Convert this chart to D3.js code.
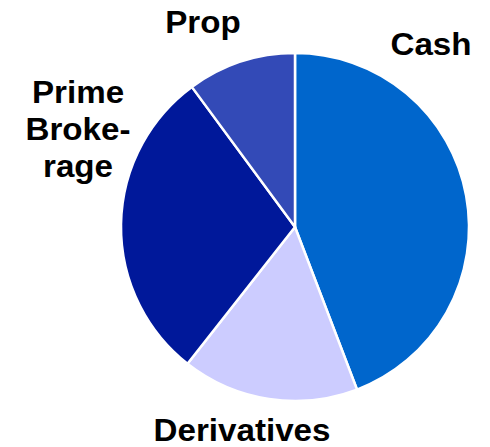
<!DOCTYPE html>
<html>
<head>
<meta charset="utf-8">
<script src="https://cdn.jsdelivr.net/npm/d3@7"></script>
<style>
  body { margin: 0; background: #fff; }
  svg { display: block; }
  .label { font-family: "Liberation Sans", Arial, sans-serif; font-weight: bold; font-size: 31px; fill: #000; }
</style>
</head>
<body>
<svg id="chart" width="490" height="447"></svg>
<script>
const categories = ['Cash', 'Derivatives', 'Prime Brokerage', 'Prop'];
const shares = [44.2, 16.4, 29.3, 10.1];
const colours = ['#0066CC', '#CCCCFF', '#00189A', '#334AB7'];

// label lines and where they sit
const labelLines = [['Cash'], ['Derivatives'], ['Prime', 'Broke-', 'rage'], ['Prop']];
const labelPos = [[431, 55], [242, 441], [78, 103], [203, 33]];

const svg = d3.select('svg#chart');
const cx = 295, cy = 227, radius = 174;

const pie = d3.pie().sort(null).value(d => d);
const arcGen = d3.arc().innerRadius(0).outerRadius(radius);

const g = svg.append('g').attr('transform', `translate(${cx},${cy})`);

g.selectAll('path').data(pie(shares))
  .enter().append('path')
    .attr('d', arcGen)
    .style('fill', (d, i) => colours[i])
    .style('stroke', '#fff')
    .style('stroke-width', 2.5)
    .style('stroke-linejoin', 'miter');

const labels = svg.selectAll('text.label').data(categories)
  .enter().append('text')
    .attr('class', 'label')
    .attr('text-anchor', 'middle')
    .attr('transform', (d, i) => `translate(${labelPos[i][0]},${labelPos[i][1]}) scale(1.07,1)`);

labels.each(function(d, i) {
  d3.select(this).selectAll('tspan').data(labelLines[i])
    .enter().append('tspan')
      .attr('x', 0)
      .attr('y', (t, j) => j * 37)
      .text(t => t);
});
</script>
</body>
</html>
